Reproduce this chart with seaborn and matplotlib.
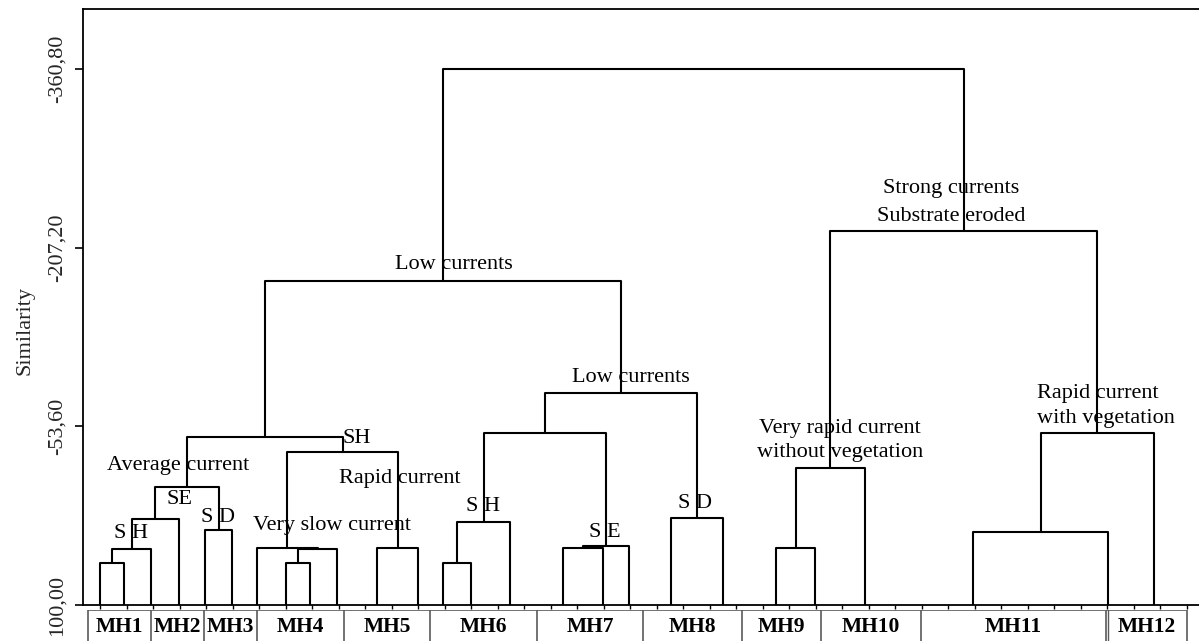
import numpy as np
import pandas as pd
import matplotlib
matplotlib.use("Agg")
import matplotlib.pyplot as plt
import seaborn as sns

# ---------------- data ----------------
# leaf positions along the observation axis
leaf_x = [17, 41.3, 68, 96.3, 121.7, 149.3, 174.3, 203, 227, 254.3, 294, 335.3,
          360.3, 387.7, 427, 479.7, 520.3, 546.3, 587.7, 639.7, 692.7, 732.3, 782.3,
          890, 1025.3, 1071]
leaf_sim = 100.0
# merges: node ids < 26 are leaves, merge i creates node 26 + i
merge_a = [0, 26, 27, 4, 28, 7, 31, 6, 10, 33, 30, 12, 37, 15, 39, 38, 18, 41, 36,
           20, 45, 23, 47, 46, 44]
merge_b = [1, 2, 3, 5, 29, 8, 9, 32, 11, 34, 35, 13, 14, 16, 17, 40, 19, 42, 43,
           21, 22, 24, 25, 48, 49]
merge_sim = [63.6, 52.1, 25.8, 35.5, -1.7, 63.6, 52.1, 50.7, 50.7, -31.8, -44.2,
             63.6, 28.9, 50.7, 49.3, -48.1, 25.5, -82.5, -178.8, 50.7, -17.5, 37.0,
             -47.6, -221.5, -360.8]

group_names = ["MH1", "MH2", "MH3", "MH4", "MH5", "MH6", "MH7", "MH8", "MH9",
               "MH10", "MH11", "MH12"]
group_edges = [4.7, 67.7, 121, 173.7, 261, 347, 453.7, 560.3, 659.3, 737.7,
               838.3, 1022.7, 1104.3]

y_ticks = [100.0, -53.6, -207.2, -360.8]
y_tick_labels = ["100,00", "-53,60", "-207,20", "-360,80"]

ann_text = ["S H", "SE", "S D", "Average current", "SH", "Rapid current",
            "Very slow current", "Low currents", "Low currents", "S H", "S E", "S D",
            "Very rapid current", "without vegetation", "Rapid current",
            "with vegetation", "Strong currents", "Substrate eroded"]
ann_x = [48, 97, 135, 95, 260, 317, 249, 371, 548, 400, 522, 612, 757, 757, 954,
         954, 868, 868]
ann_y = [42.4, 13.2, 28.4, -16.1, -39.3, -4.9, 35.5, -188.9, -92.0, 18.9, 41.3,
         16.6, -48.1, -27.0, -77.7, -56.2, -253.9, -230.1]
ann_ha = ["center", "center", "center", "center", "left", "center", "center",
          "center", "center", "center", "center", "center", "center", "center",
          "left", "left", "center", "center"]

# ---------------- build dendrogram links ----------------
node_x = list(leaf_x)
node_y = [leaf_sim] * len(leaf_x)
rows = []
for i, (a, b, h) in enumerate(zip(merge_a, merge_b, merge_sim)):
    xa, ya, xb, yb = node_x[a], node_y[a], node_x[b], node_y[b]
    for k, (px, py) in enumerate([(xa, ya), (xa, h), (xb, h), (xb, yb)]):
        rows.append({"link": i, "order": k, "x": px, "y": py})
    node_x.append((xa + xb) / 2.0)
    node_y.append(h)
links = pd.DataFrame(rows)

# ---------------- style ----------------
sns.set_theme(style="white")
plt.rcParams["font.family"] = ["Liberation Serif", "DejaVu Serif"]
plt.rcParams["axes.edgecolor"] = "black"

W, H = 1199, 641
fig = plt.figure(figsize=(W / 100, H / 100), dpi=100)
fig.patch.set_facecolor("white")
ax = fig.add_axes([83 / W, 36 / H, 1116 / W, 596 / H])

sns.lineplot(data=links, x="x", y="y", units="link", estimator=None, sort=False,
             color="black", linewidth=1.5, ax=ax, legend=False)

ax.set_xlim(0, 1116)
ax.set_ylim(100, -412.4)
ax.set_yticks(y_ticks)
ax.set_yticklabels(y_tick_labels, rotation=90, va="center", fontsize=16)
ax.tick_params(axis="y", direction="out", length=6, width=1.2, color="black",
               pad=5.7, left=True)
ax.set_xticks([])
ax.set_xticks(np.arange(17.3, 1105, 26.5), minor=True)
ax.tick_params(axis="x", which="minor", direction="out", length=2.6, width=1,
               color="black", bottom=True)
ax.set_xlabel("")
ax.set_ylabel("Similarity", fontsize=16)
ax.yaxis.set_label_coords(-0.0435, 0.461)
for s in ["left", "top", "bottom"]:
    ax.spines[s].set_visible(True)
    ax.spines[s].set_linewidth(1.3)
    ax.spines[s].set_color("black")
ax.spines["right"].set_visible(False)
ax.grid(False)

for t, x, y, ha in zip(ann_text, ann_x, ann_y, ann_ha):
    ax.text(x, y, t, ha=ha, va="baseline", fontsize=16, color="black")

# ---------------- label row ----------------
axl = fig.add_axes([83 / W, 0, 1116 / W, 31.5 / H])
axl.set_xlim(0, 1116)
axl.set_ylim(0, 1)
axl.axis("off")
box_col = "#5a5a5a"
axl.plot([group_edges[0], group_edges[-1]], [1, 1], color=box_col, lw=1.2,
         solid_capstyle="butt")
for e in group_edges:
    axl.plot([e, e], [0, 1], color=box_col, lw=1.2)
axl.plot([group_edges[-2] + 2, group_edges[-2] + 2], [0, 1], color=box_col, lw=1.0)
for name, l, r in zip(group_names, group_edges[:-1], group_edges[1:]):
    axl.text((l + r) / 2, 0.27, name, ha="center", va="baseline", fontsize=15.5,
             fontweight="bold", color="black")

fig.savefig("out.png", dpi=100, facecolor="white")
